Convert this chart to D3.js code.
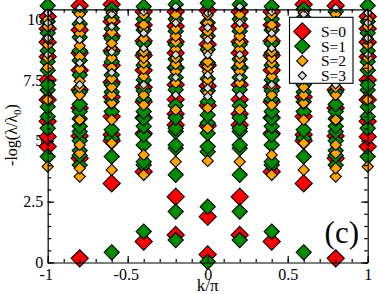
<!DOCTYPE html>
<html>
<head>
<meta charset="utf-8">
<script src="https://cdn.jsdelivr.net/npm/d3@7"></script>
<style>
  body { margin: 0; background: #fff; }
  svg text { font-family: "Liberation Serif", "Times New Roman", "DejaVu Serif", serif !important; }
</style>
</head>
<body>
<div id="chart"></div>
<script>
// tick labels
const xTicks = [-1, -0.5, 0, 0.5, 1];
const yTicks = [0, 2.5, 5, 7.5, 10];
const spins = ["S=0", "S=1", "S=2", "S=3"];
const colors = ["#ff0000", "#008b00", "#ffa500", "#dcdcdc"];

// levels for each |k|, one array per spin S=0..3
const lev00 = [
  [0.33, 1.88, 5.62, 6.45, 7.25, 8.1, 8.95, 9.6, 10.35],
  [0.03, 2.29, 4.55, 4.76, 5.31, 5.73, 6.06, 6.6, 7.05, 7.55, 8.2, 8.75, 9.3, 9.85, 10.65],
  [4.17, 5.51, 6.34, 6.97, 7.35, 7.5, 7.85, 8.05, 8.25, 8.66, 8.9, 9.25, 9.49, 9.83, 10.17],
  [6.82, 7.16, 7.7, 8.53, 9.14, 9.65, 10.24]
];
const lev02 = [
  [1.13, 2.7, 5.65, 6.1, 6.7, 7.3, 8.0, 8.6, 9.07, 9.7, 10.3],
  [0.92, 2.09, 3.6, 4.69, 4.83, 5.38, 5.51, 5.95, 6.45, 7.1, 7.6, 8.0, 8.35, 8.95, 9.5, 10.0, 10.6],
  [4.14, 6.27, 7.38, 7.84, 8.15, 8.4, 8.75, 9.07, 9.3, 9.6, 9.9, 10.17],
  [6.88, 7.6, 8.53, 9.84, 10.51]
];
const lev04 = [
  [0.86, 3.73, 5.3, 5.95, 6.6, 7.2, 7.9, 8.5, 9.1, 9.76, 10.3],
  [1.27, 4.0, 4.14, 4.83, 5.24, 5.6, 5.92, 6.2, 6.7, 7.05, 7.5, 8.1, 8.6, 9.0, 9.55, 10.0, 10.51],
  [3.6, 4.42, 6.47, 6.88, 7.25, 7.64, 7.95, 8.2, 8.4, 8.65, 9.2, 9.6, 9.76, 10.17],
  [7.3, 8.8, 9.42, 10.3]
];
const lev06 = [
  [3.25, 5.0, 5.25, 6.0, 6.8, 7.4, 8.1, 8.7, 9.3, 9.9, 10.6],
  [0.42, 4.35, 5.1, 5.45, 6.2, 6.6, 7.0, 7.3, 7.7, 8.25, 8.6, 9.2, 9.6, 10.05, 10.4],
  [3.8, 4.9, 5.86, 6.55, 6.88, 7.2, 7.55, 8.0, 8.4, 8.8, 9.0, 9.45, 9.95, 10.25],
  [7.8, 8.65, 9.7, 10.2]
];
const lev08 = [
  [0.17, 4.28, 5.2, 6.35, 7.1, 7.9, 8.6, 9.55, 10.55],
  [4.0, 4.4, 4.6, 5.0, 5.38, 5.6, 5.9, 6.2, 6.5, 7.0, 7.7, 8.3, 8.7, 9.25, 9.8, 10.3],
  [3.53, 3.87, 4.49, 4.83, 5.86, 6.88, 7.2, 7.45, 7.95, 8.45, 8.9, 9.4, 9.7, 10.2],
  [7.3, 8.2, 9.15, 9.95, 10.45]
];
const lev10 = [
  [4.76, 5.17, 5.8, 6.68, 7.5, 8.45, 9.05, 9.6, 10.1],
  [4.35, 5.51, 6.0, 6.4, 7.09, 7.3, 7.9, 8.25, 8.7, 9.43, 9.9, 10.55],
  [3.94, 6.68, 8.0, 8.4, 8.94, 9.2, 9.7, 9.97],
  [8.53, 9.22, 9.84, 10.25]
];

// momenta k/pi and which level set sits there
const kValues = [-1, -0.8, -0.6, -0.4, -0.2, 0, 0.2, 0.4, 0.6, 0.8, 1];
const kLevels = [lev10, lev08, lev06, lev04, lev02, lev00, lev02, lev04, lev06, lev08, lev10];

const width = 378;
const height = 294;
const serif = '"Liberation Serif", "Times New Roman", "DejaVu Serif", serif';

const svg = d3.select("#chart").append("svg")
  .attr("width", width)
  .attr("height", height);

const x = d3.scaleLinear().domain([-1, 1]).range([47.7, 367.7]);
const y = d3.scaleLinear().domain([0, 10.4]).range([262.5, 9.3]);

const xMinor = d3.range(-10, 11).map(d => d / 10);
const yMinor = d3.range(0, 21).map(d => d / 2);

// tick labels (under the symbols)
const xLab = svg.append("g").attr("transform", `translate(0,${y(0)})`)
  .call(d3.axisBottom(x).tickValues(xTicks).tickSize(0).tickPadding(6)
    .tickFormat(d => String(d)));
const yLab = svg.append("g").attr("transform", `translate(${x(-1)},0)`)
  .call(d3.axisLeft(y).tickValues(yTicks).tickSize(0).tickPadding(4.5)
    .tickFormat(d => String(d)));
[xLab, yLab].forEach(g => {
  g.attr("font-family", null).attr("font-size", null);
  g.select(".domain").remove();
  g.selectAll("text").style("font-size", "16px").attr("fill", "#000")
    .style("font-family", serif);
});
xLab.selectAll("text").attr("dx", d => d < 0 ? "-0.12em" : 0);

// symbols, set by set
const sizes = [8.6, 7.6, 5.6, 4.1];
const diamond = r => `M0,${-r}L${r},0L0,${r}L${-r},0Z`;

spins.forEach((s, si) => {
  const pts = [];
  kValues.forEach((k, i) => kLevels[i][si].forEach(v => pts.push({ k: k, v: v })));
  svg.append("g").selectAll("path")
    .data(pts)
    .enter()
    .append("path")
    .attr("transform", d => `translate(${x(d.k)},${y(d.v)})`)
    .attr("d", diamond(sizes[si]))
    .attr("fill", colors[si])
    .attr("stroke", "#000")
    .attr("stroke-width", 1.1);
});

// frame and inward ticks on all four sides
function frame(makeAxis, scale, tx, ty, major, minor) {
  const g = svg.append("g").attr("transform", `translate(${tx},${ty})`);
  g.call(makeAxis(scale).tickValues(minor).tickSize(-3.5).tickSizeOuter(0).tickFormat(""));
  g.append("g")
    .call(makeAxis(scale).tickValues(major).tickSize(-6.5).tickSizeOuter(0).tickFormat(""))
    .select(".domain").remove();
  g.selectAll("line, path").attr("stroke", "#000").attr("stroke-width", 1.2);
}
frame(d3.axisBottom, x, 0, y(0), xTicks, xMinor);
frame(d3.axisTop, x, 0, y(10.4), xTicks, xMinor);
frame(d3.axisLeft, y, x(-1), 0, yTicks, yMinor);
frame(d3.axisRight, y, x(1), 0, yTicks, yMinor);

// axis titles
svg.append("text")
  .attr("x", x(0)).attr("y", 291)
  .attr("text-anchor", "middle")
  .style("font-family", serif).style("font-size", "17px")
  .text("k/π");

const yTitle = svg.append("text")
  .attr("transform", "translate(17,135) rotate(-90)")
  .attr("text-anchor", "middle")
  .style("font-family", serif).style("font-size", "16px");
yTitle.append("tspan").text("-log(λ/λ");
yTitle.append("tspan").style("font-size", "11px").attr("dy", 4).text("0");
yTitle.append("tspan").attr("dy", -4).text(")");

// panel tag
svg.append("text")
  .attr("x", 359).attr("y", 243)
  .attr("text-anchor", "end")
  .style("font-family", serif).style("font-size", "31px")
  .text("(c)");

// legend
const leg = svg.append("g");
leg.append("rect")
  .attr("x", 289.5).attr("y", 17.3).attr("width", 63.5).attr("height", 66)
  .attr("fill", "#fff").attr("stroke", "#000").attr("stroke-width", 1.1);
spins.forEach((s, i) => {
  const ly = 31.5 + i * 14.7;
  leg.append("path")
    .attr("transform", `translate(302.3,${ly})`)
    .attr("d", diamond(sizes[i]))
    .attr("fill", colors[i]).attr("stroke", "#000").attr("stroke-width", 1.1);
  leg.append("text")
    .attr("x", 321).attr("y", ly + 5.3)
    .style("font-family", serif).style("font-size", "15.5px")
    .text(s);
});
</script>
</body>
</html>
